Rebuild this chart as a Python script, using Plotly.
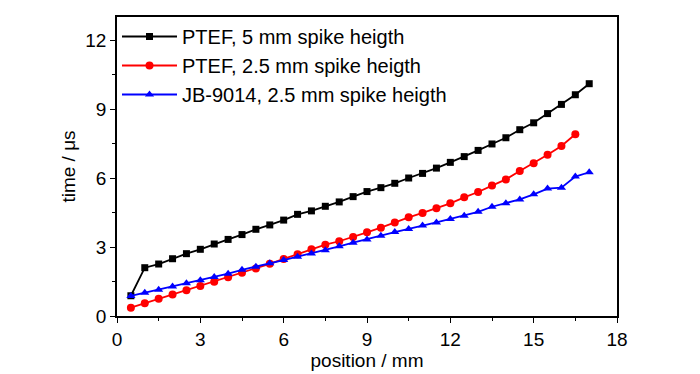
import plotly.graph_objects as go

x_black = [0.5 * i for i in range(1, 35)]
y_black = [0.88, 2.1, 2.26, 2.49, 2.71, 2.9, 3.13, 3.33, 3.54, 3.77, 3.96, 4.17, 4.42, 4.57,
           4.77, 4.96, 5.19, 5.41, 5.58, 5.77, 6.0, 6.2, 6.43, 6.68, 6.93, 7.2, 7.48, 7.75,
           8.1, 8.4, 8.8, 9.2, 9.62, 10.1]

x_red = [0.5 * i for i in range(1, 34)]
y_red = [0.36, 0.55, 0.75, 0.94, 1.12, 1.3, 1.49, 1.68, 1.88, 2.07, 2.27, 2.48, 2.68, 2.9,
         3.1, 3.25, 3.43, 3.64, 3.84, 4.07, 4.29, 4.48, 4.68, 4.9, 5.16, 5.39, 5.67, 5.94,
         6.3, 6.64, 7.01, 7.39, 7.9]

x_blue = [0.5 * i for i in range(1, 35)]
y_blue = [0.87, 1.01, 1.14, 1.28, 1.42, 1.55, 1.7, 1.84, 2.01, 2.14, 2.29, 2.43, 2.58, 2.72,
          2.86, 3.03, 3.19, 3.33, 3.49, 3.65, 3.78, 3.94, 4.07, 4.22, 4.36, 4.53, 4.75, 4.9,
          5.07, 5.29, 5.54, 5.58, 6.06, 6.25]

names = ["PTEF, 5 mm spike heigth", "PTEF, 2.5 mm spike heigth", "JB-9014, 2.5 mm spike heigth"]
x_ticks = [0, 3, 6, 9, 12, 15, 18]
y_ticks = [0, 3, 6, 9, 12]

FONT = "Liberation Sans, Arial, sans-serif"

fig = go.Figure()
fig.add_trace(go.Scatter(x=x_black, y=y_black, mode="lines+markers", name=names[0],
                         line=dict(color="black", width=1.8),
                         marker=dict(symbol="square", size=7, color="black")))
fig.add_trace(go.Scatter(x=x_red, y=y_red, mode="lines+markers", name=names[1],
                         line=dict(color="#ff0000", width=1.8),
                         marker=dict(symbol="circle", size=8, color="#ff0000")))
fig.add_trace(go.Scatter(x=x_blue, y=y_blue, mode="lines+markers", name=names[2],
                         line=dict(color="#0000ff", width=1.8),
                         marker=dict(symbol="triangle-up", size=8, color="#0000ff")))

axis_common = dict(showgrid=False, zeroline=False, showline=True, linecolor="black",
                   linewidth=1.5, mirror=True, ticks="outside", ticklen=5, tickwidth=1.2,
                   tickcolor="black", tickfont=dict(family=FONT, size=19, color="black"),
                   minor=dict(ticks="outside", ticklen=3, tickwidth=1.2, tickcolor="black"))

fig.update_xaxes(range=[0, 18], tickvals=x_ticks, minor_dtick=1.5,
                 title=dict(text="position / mm", font=dict(family=FONT, size=19, color="black"),
                            standoff=0),
                 **axis_common)
fig.update_yaxes(range=[0, 13], tickvals=y_ticks, minor_dtick=1.5,
                 title=dict(text="time / μs", font=dict(family=FONT, size=19, color="black"),
                            standoff=5),
                 **axis_common)

fig.update_layout(
    width=692, height=366,
    margin=dict(l=109, r=83, t=9, b=58, autoexpand=False),
    paper_bgcolor="white", plot_bgcolor="white",
    font=dict(family=FONT, size=19, color="black"),
    legend=dict(x=0.0, y=1.0, xanchor="left", yanchor="top", bgcolor="rgba(0,0,0,0)",
                font=dict(family=FONT, size=20, color="black"), itemwidth=55,
                tracegroupgap=0, traceorder="normal"),
    showlegend=True,
)

fig.write_html("out.html")
